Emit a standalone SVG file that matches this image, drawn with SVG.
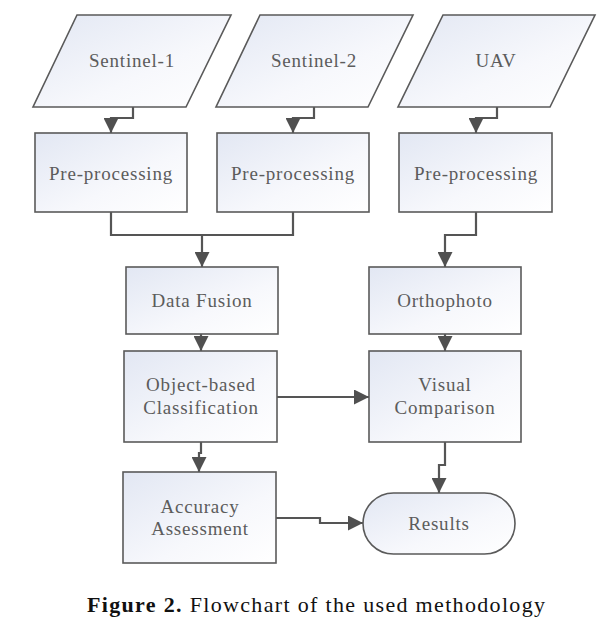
<svg xmlns="http://www.w3.org/2000/svg" width="610" height="634" viewBox="0 0 610 634">
<style>
.shape{fill:url(#g);stroke:#5a5a5a;stroke-width:1.6}
.lbl{font-family:"Liberation Serif","Times New Roman",serif;font-size:19px;letter-spacing:0.8px;fill:#5c5c5c;text-anchor:middle}
.con{fill:none;stroke:#555;stroke-width:2.2}
.arr{marker-end:url(#ah)}
.cap{font-family:"Liberation Serif","Times New Roman",serif;font-size:22px;fill:#111}
</style>
<defs>
<linearGradient id="g" x1="0" y1="0" x2="1" y2="1">
<stop offset="0" stop-color="#e2e7f3"/>
<stop offset="0.6" stop-color="#f7f8fc"/>
<stop offset="1" stop-color="#ffffff"/>
</linearGradient>
<marker id="ah" markerUnits="userSpaceOnUse" markerWidth="15" markerHeight="15" refX="15" refY="7.5" orient="auto">
<path d="M0,0 L15,7.5 L0,15 z" fill="#505050"/>
</marker>
</defs>
<rect width="610" height="634" fill="#fff"/>
<g id="connectors">
<path class="con arr" d="M133,107 V118 H111 V133"/>
<path class="con arr" d="M314,107 V118 H293 V133"/>
<path class="con arr" d="M497,107 V118 H476 V133"/>
<path class="con arr" d="M111,212 V235 H202 V267"/>
<path class="con" d="M293,212 V235 H202"/>
<path class="con arr" d="M476,212 V235 H445 V267"/>
<path class="con arr" d="M201,334 V351"/>
<path class="con arr" d="M445,334 V351"/>
<path class="con arr" d="M277,397 H369"/>
<path class="con arr" d="M201,442 V453 H199 V472"/>
<path class="con arr" d="M445,442 V465 H439 V493"/>
<path class="con arr" d="M276,518 H320 V523 H363"/>
</g>
<g id="sentinel1"><polygon class="shape" points="77,15 231,15 186,107 33,107"/><text class="lbl" x="132" y="67">Sentinel-1</text></g>
<g id="sentinel2"><polygon class="shape" points="260,15 413,15 368,107 216,107"/><text class="lbl" x="314" y="67">Sentinel-2</text></g>
<g id="uav"><polygon class="shape" points="443,15 595,15 550,107 398,107"/><text class="lbl" x="496" y="67">UAV</text></g>
<g id="pre1"><rect class="shape" x="35" y="133" width="152" height="79"/><text class="lbl" x="111" y="180">Pre-processing</text></g>
<g id="pre2"><rect class="shape" x="217" y="133" width="152" height="79"/><text class="lbl" x="293" y="180">Pre-processing</text></g>
<g id="pre3"><rect class="shape" x="399" y="133" width="153" height="79"/><text class="lbl" x="476" y="180">Pre-processing</text></g>
<g id="fusion"><rect class="shape" x="126" y="267" width="152" height="67"/><text class="lbl" x="202" y="307">Data Fusion</text></g>
<g id="ortho"><rect class="shape" x="369" y="267" width="152" height="67"/><text class="lbl" x="445" y="307">Orthophoto</text></g>
<g id="obc"><rect class="shape" x="124" y="351" width="153" height="91"/><text class="lbl" x="201" y="391">Object-based</text><text class="lbl" x="201" y="414">Classification</text></g>
<g id="visual"><rect class="shape" x="369" y="351" width="152" height="91"/><text class="lbl" x="445" y="391">Visual</text><text class="lbl" x="445" y="414">Comparison</text></g>
<g id="accuracy"><rect class="shape" x="123" y="472" width="153" height="91"/><text class="lbl" x="200" y="513">Accuracy</text><text class="lbl" x="200" y="535">Assessment</text></g>
<g id="results"><rect class="shape" x="363" y="493" width="152" height="61" rx="30.5" ry="30.5"/><text class="lbl" x="439" y="530">Results</text></g>
<text class="cap" x="87" y="612" textLength="458" lengthAdjust="spacing"><tspan font-weight="bold">Figure 2.</tspan> Flowchart of the used methodology</text>
</svg>
